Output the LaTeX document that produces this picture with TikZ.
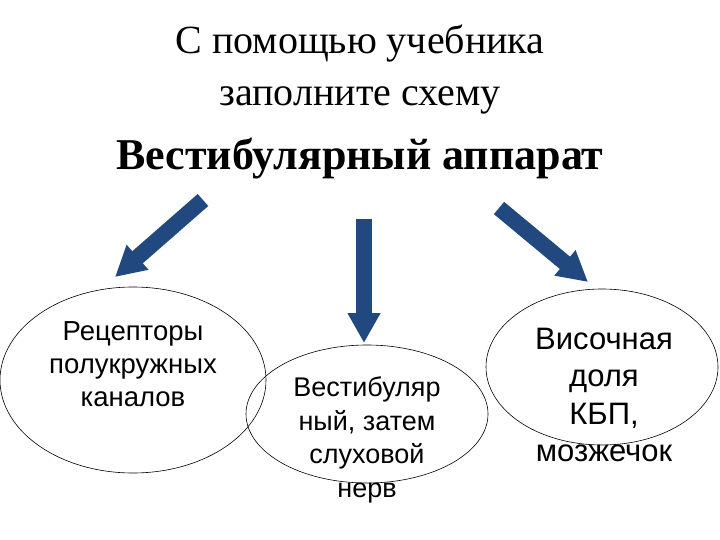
\documentclass[tikz,border=0pt]{standalone}
\usepackage{fontspec}
\setmainfont{Liberation Serif}
\newfontfamily\arialf{Liberation Sans}
\usetikzlibrary{arrows.meta,shapes.geometric}
\definecolor{arrblue}{RGB}{33,73,128}
\tikzset{
  oval/.style={draw, line width=0.6pt, ellipse, inner sep=0pt},
  bigarrow/.style={draw=arrblue, line width=16pt, -{Triangle[width=31pt,length=30pt]}},
  celltext/.style={align=center}
}
\begin{document}
\begin{tikzpicture}[x=1pt,y=-1pt]
\useasboundingbox (0,0) rectangle (720,540);
\node[font=\fontsize{40}{52}\selectfont, align=center] (title) at (360,70) {С помощью учебника\\заполните схему};
\node[font=\fontsize{44}{48}\selectfont\bfseries] (head) at (360,159) {Вестибулярный аппарат};

\node[oval, minimum width=266pt, minimum height=186pt] (e1) at (133,380) {};
\node[oval, minimum width=242pt, minimum height=138pt] (e2) at (367,414) {};
\node[oval, minimum width=232pt, minimum height=156pt] (e3) at (602,367) {};

\node[celltext, font=\arialf\fontsize{27.5}{33}\selectfont] (t1) at (133,364) {Рецепторы\\полукружных\\каналов};
\node[celltext, font=\arialf\fontsize{27}{33.5}\selectfont] (t2) at (367,440) {Вестибуляр\\ный, затем\\слуховой\\нерв};
\node[celltext, font=\arialf\fontsize{31}{37.5}\selectfont] (t3) at (604,395) {Височная\\доля\\КБП,\\мозжечок};

\coordinate (a1s) at (203,200);
\coordinate (a1e) at (115,277);
\coordinate (a2s) at (364,219);
\coordinate (a2e) at (364,343);
\coordinate (a3s) at (499,208);
\coordinate (a3e) at (588,282);
\draw[bigarrow] (a1s) -- (a1e);
\draw[bigarrow] (a2s) -- (a2e);
\draw[bigarrow] (a3s) -- (a3e);
\end{tikzpicture}
\end{document}
